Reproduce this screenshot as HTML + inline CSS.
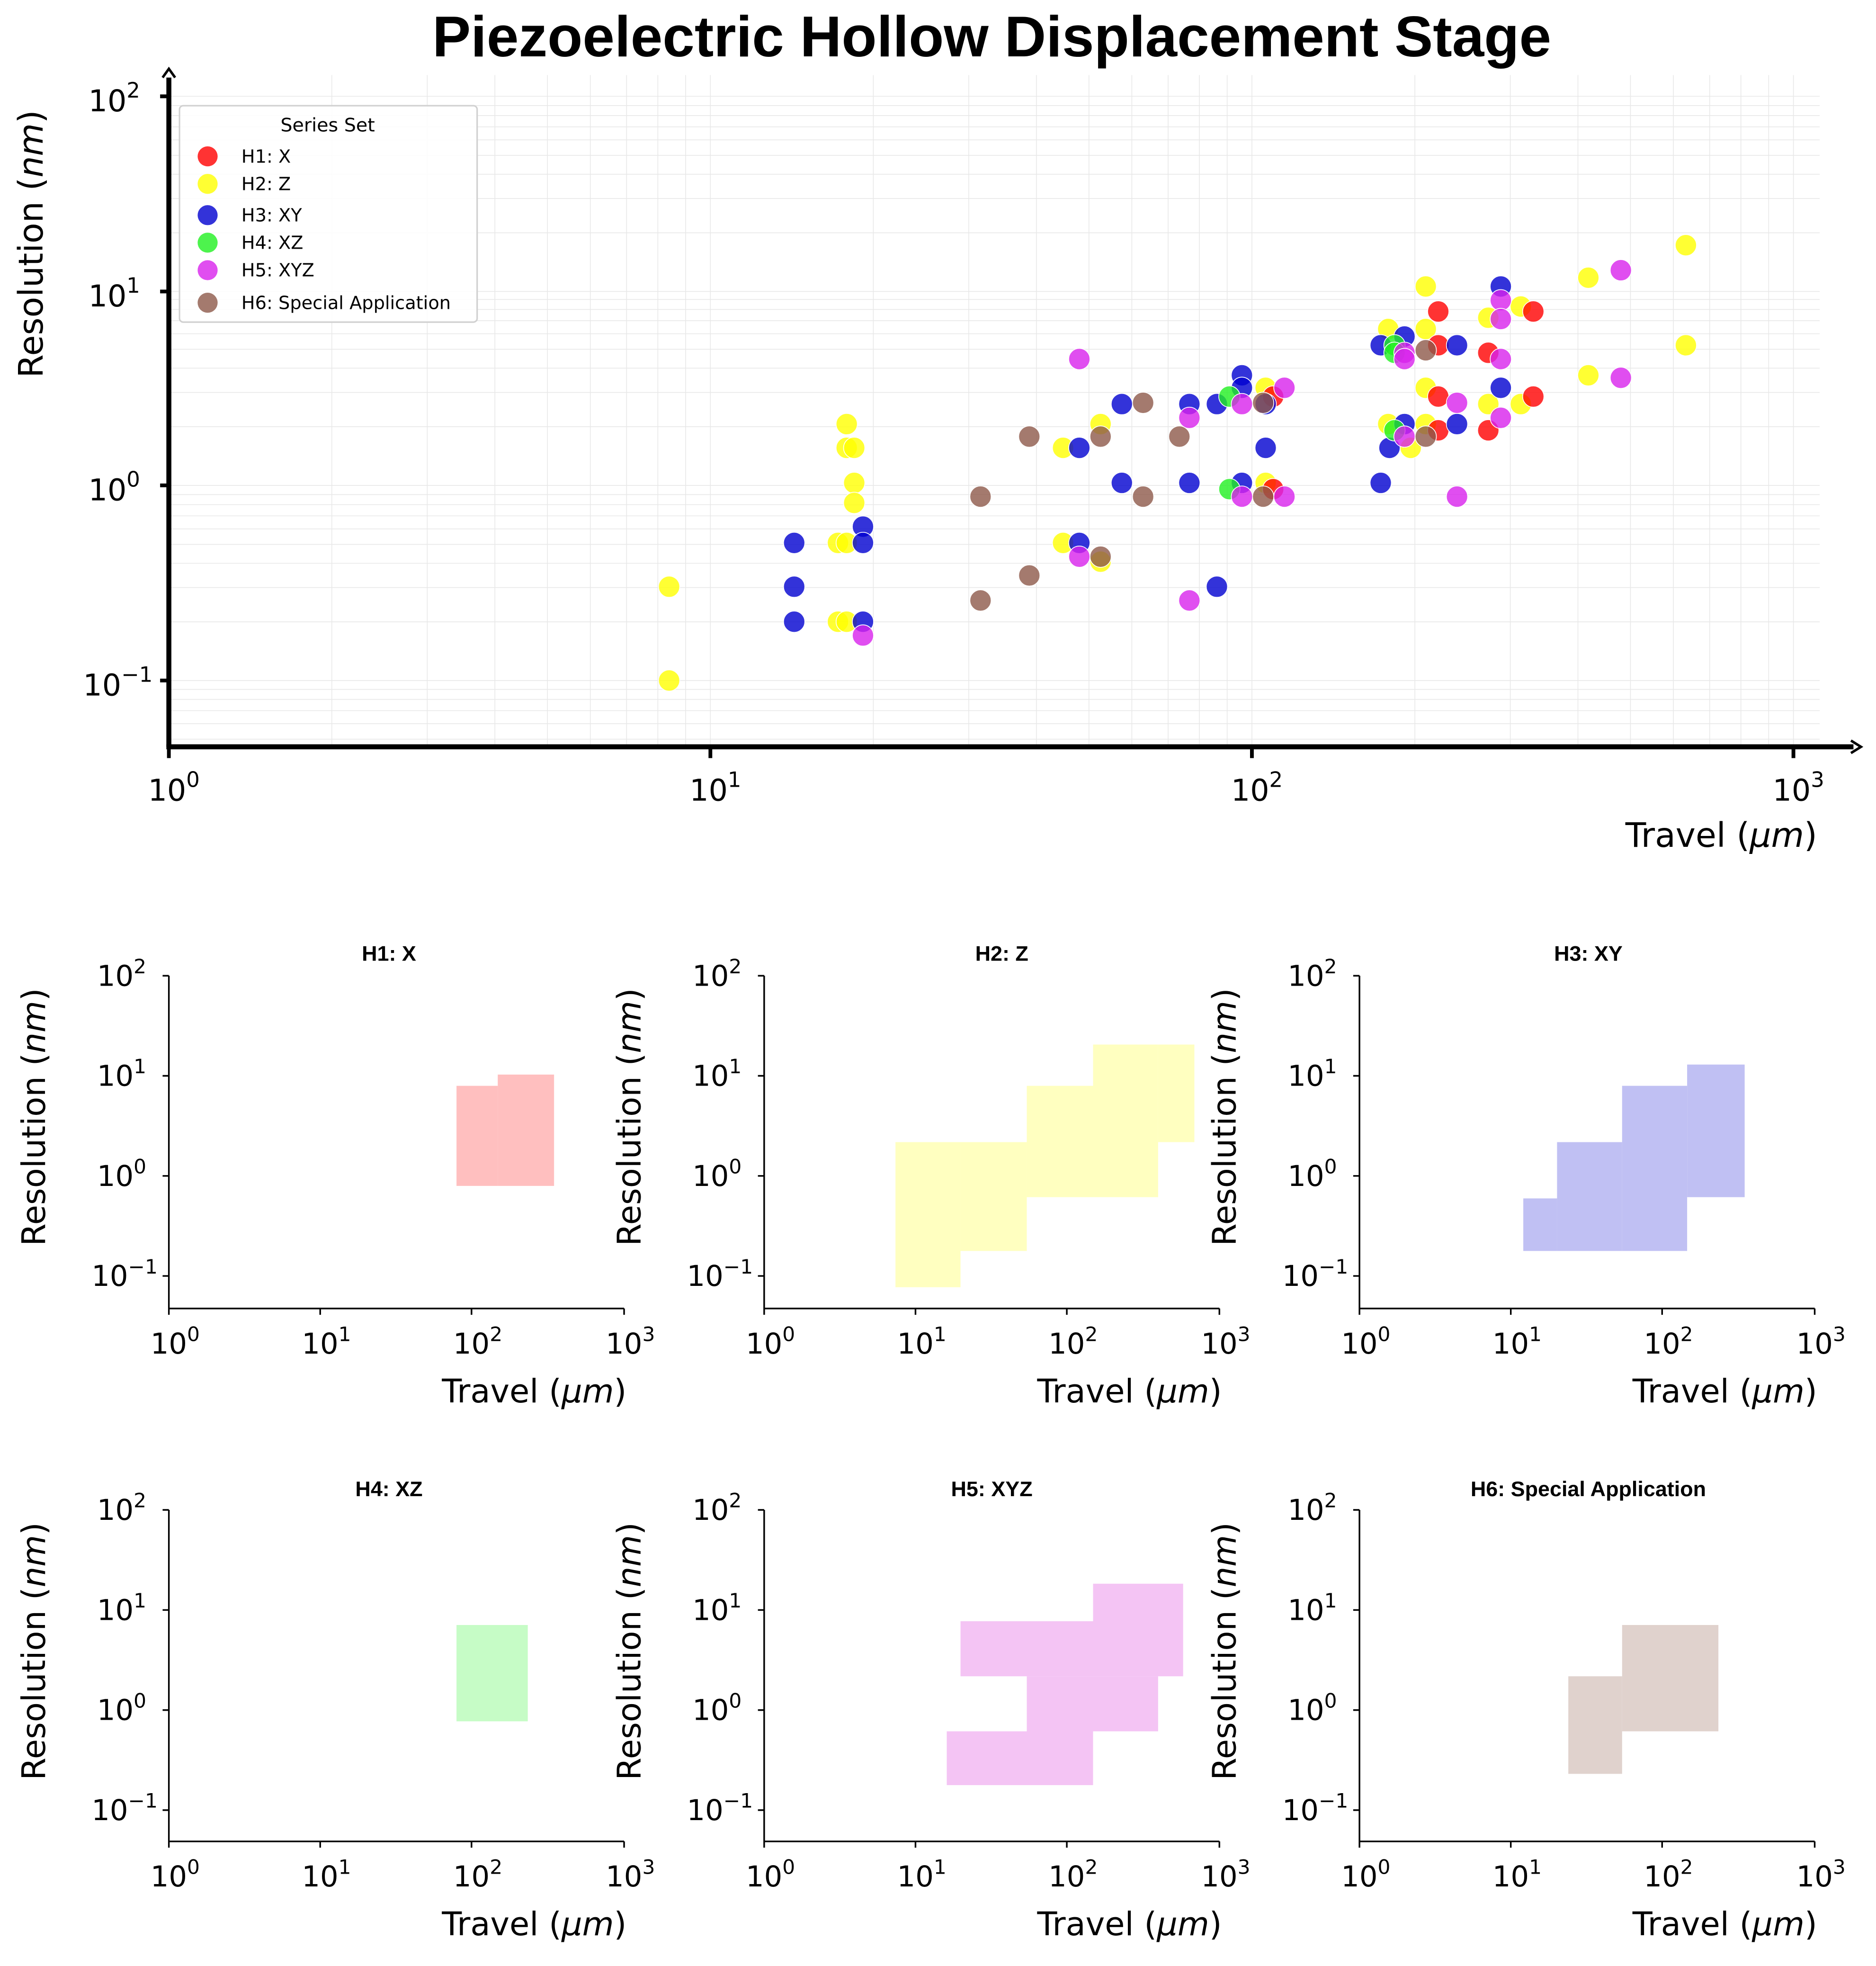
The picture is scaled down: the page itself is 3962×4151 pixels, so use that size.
<!DOCTYPE html>
<html><head><meta charset="utf-8"><style>html,body{margin:0;padding:0;background:#fff}svg{display:block}</style></head>
<body>
<svg xmlns="http://www.w3.org/2000/svg" width="3962" height="4151" viewBox="0 0 1500 1571.6" font-family="DejaVu Sans, Liberation Sans, sans-serif">
<rect width="1500" height="1571.6" fill="#fff"/>
<text x="793" y="45" font-size="46" font-weight="bold" text-anchor="middle" font-family="Liberation Sans, sans-serif">Piezoelectric Hollow Displacement Stage</text>
<g stroke="#e8e8e8" stroke-width="0.6" fill="none">
<path d="M265.3 60V597M341.6 60V597M395.7 60V597M437.7 60V597M472 60V597M501 60V597M526 60V597M548.2 60V597M698.3 60V597M774.6 60V597M828.7 60V597M870.7 60V597M905 60V597M934 60V597M959 60V597M981.2 60V597M1131.3 60V597M1207.6 60V597M1261.7 60V597M1303.7 60V597M1338 60V597M1367 60V597M1392 60V597M1414.2 60V597M568 60V597M1001 60V597M1434 60V597"/>
<path d="M135 497.1H1455M135 469.7H1455M135 450.3H1455M135 435.2H1455M135 422.8H1455M135 412.4H1455M135 403.4H1455M135 395.4H1455M135 341.1H1455M135 313.7H1455M135 294.3H1455M135 279.2H1455M135 266.8H1455M135 256.4H1455M135 247.4H1455M135 239.4H1455M135 186.1H1455M135 158.7H1455M135 139.3H1455M135 124.2H1455M135 111.8H1455M135 101.4H1455M135 92.4H1455M135 84.4H1455M135 551.1H1455M135 559.1H1455M135 568.1H1455M135 578.5H1455M135 590.9H1455M135 77H1455M135 233H1455M135 388H1455M135 544H1455"/>
</g>
<g stroke="#fff" stroke-width="0.6" fill-opacity="0.8">
<g fill="#ffff00">
<circle cx="535" cy="469" r="8.5"/><circle cx="535" cy="544" r="8.5"/><circle cx="677" cy="339" r="8.5"/><circle cx="677" cy="358" r="8.5"/><circle cx="683" cy="358" r="8.5"/><circle cx="683" cy="386" r="8.5"/><circle cx="683" cy="402" r="8.5"/><circle cx="670" cy="434" r="8.5"/><circle cx="677" cy="434" r="8.5"/><circle cx="670" cy="497" r="8.5"/><circle cx="677" cy="497" r="8.5"/><circle cx="850" cy="358" r="8.5"/><circle cx="880" cy="339" r="8.5"/><circle cx="850" cy="434" r="8.5"/><circle cx="880" cy="449" r="8.5"/><circle cx="1012" cy="310" r="8.5"/><circle cx="1012" cy="386" r="8.5"/><circle cx="1110" cy="263" r="8.5"/><circle cx="1140" cy="229" r="8.5"/><circle cx="1140" cy="263" r="8.5"/><circle cx="1110" cy="339" r="8.5"/><circle cx="1128" cy="358" r="8.5"/><circle cx="1140" cy="310" r="8.5"/><circle cx="1140" cy="339" r="8.5"/><circle cx="1190" cy="254" r="8.5"/><circle cx="1216" cy="245" r="8.5"/><circle cx="1190" cy="323" r="8.5"/><circle cx="1216" cy="323" r="8.5"/><circle cx="1270" cy="222" r="8.5"/><circle cx="1348" cy="196" r="8.5"/><circle cx="1270" cy="300" r="8.5"/><circle cx="1348" cy="276" r="8.5"/>
</g>
<g fill="#ff0000">
<circle cx="1150" cy="249" r="8.5"/><circle cx="1150" cy="276" r="8.5"/><circle cx="1150" cy="317" r="8.5"/><circle cx="1150" cy="344" r="8.5"/><circle cx="1190" cy="282" r="8.5"/><circle cx="1190" cy="344" r="8.5"/><circle cx="1226" cy="249" r="8.5"/><circle cx="1226" cy="317" r="8.5"/><circle cx="1018" cy="317" r="8.5"/><circle cx="1018" cy="391" r="8.5"/>
</g>
<g fill="#0000d0">
<circle cx="635" cy="434" r="8.5"/><circle cx="635" cy="469" r="8.5"/><circle cx="635" cy="497" r="8.5"/><circle cx="690" cy="421" r="8.5"/><circle cx="690" cy="434" r="8.5"/><circle cx="690" cy="497" r="8.5"/><circle cx="863" cy="358" r="8.5"/><circle cx="863" cy="434" r="8.5"/><circle cx="897" cy="323" r="8.5"/><circle cx="897" cy="386" r="8.5"/><circle cx="951" cy="323" r="8.5"/><circle cx="951" cy="386" r="8.5"/><circle cx="973" cy="323" r="8.5"/><circle cx="973" cy="469" r="8.5"/><circle cx="993" cy="300" r="8.5"/><circle cx="993" cy="310" r="8.5"/><circle cx="993" cy="386" r="8.5"/><circle cx="1012" cy="323" r="8.5"/><circle cx="1012" cy="358" r="8.5"/><circle cx="1104" cy="276" r="8.5"/><circle cx="1104" cy="386" r="8.5"/><circle cx="1123" cy="269" r="8.5"/><circle cx="1123" cy="339" r="8.5"/><circle cx="1111" cy="358" r="8.5"/><circle cx="1165" cy="276" r="8.5"/><circle cx="1165" cy="339" r="8.5"/><circle cx="1200" cy="229" r="8.5"/><circle cx="1200" cy="310" r="8.5"/>
</g>
<g fill="#20f020">
<circle cx="983" cy="317" r="8.5"/><circle cx="983" cy="391" r="8.5"/><circle cx="1115" cy="276" r="8.5"/><circle cx="1115" cy="282" r="8.5"/><circle cx="1115" cy="344" r="8.5"/>
</g>
<g fill="#d822ec">
<circle cx="863" cy="287" r="8.5"/><circle cx="863" cy="445" r="8.5"/><circle cx="690" cy="508" r="8.5"/><circle cx="951" cy="334" r="8.5"/><circle cx="951" cy="480" r="8.5"/><circle cx="993" cy="323" r="8.5"/><circle cx="993" cy="397" r="8.5"/><circle cx="1027" cy="310" r="8.5"/><circle cx="1027" cy="397" r="8.5"/><circle cx="1123" cy="282" r="8.5"/><circle cx="1123" cy="287" r="8.5"/><circle cx="1123" cy="349" r="8.5"/><circle cx="1165" cy="397" r="8.5"/><circle cx="1165" cy="322" r="8.5"/><circle cx="1200" cy="240" r="8.5"/><circle cx="1200" cy="255" r="8.5"/><circle cx="1200" cy="287" r="8.5"/><circle cx="1200" cy="334" r="8.5"/><circle cx="1296" cy="216" r="8.5"/><circle cx="1296" cy="302" r="8.5"/>
</g>
<g fill="#8d594a">
<circle cx="823" cy="349" r="8.5"/><circle cx="784" cy="397" r="8.5"/><circle cx="784" cy="480" r="8.5"/><circle cx="823" cy="460" r="8.5"/><circle cx="880" cy="349" r="8.5"/><circle cx="880" cy="445" r="8.5"/><circle cx="914" cy="322" r="8.5"/><circle cx="914" cy="397" r="8.5"/><circle cx="943" cy="349" r="8.5"/><circle cx="1010" cy="322" r="8.5"/><circle cx="1010" cy="397" r="8.5"/><circle cx="1140" cy="280" r="8.5"/><circle cx="1140" cy="349" r="8.5"/>
</g>
</g>
<g stroke="#000" fill="none">
<path d="M135 597V62" stroke-width="4"/>
<path d="M133 597H1482" stroke-width="4"/>
<path d="M130 62L135 55L140 62" stroke-width="2"/>
<path d="M1480 592L1488 597L1480 602" stroke-width="2"/>
<path d="M128 77H135M128 233H135M128 388H135M128 544H135" stroke-width="3"/>
<path d="M135 597V606M568 597V606M1001 597V606M1434 597V606" stroke-width="3"/>
</g>
<g font-size="24" text-anchor="end">
<text x="112" y="89">10<tspan dy="-11" font-size="17">2</tspan></text>
<text x="112" y="245">10<tspan dy="-11" font-size="17">1</tspan></text>
<text x="112" y="400">10<tspan dy="-11" font-size="17">0</tspan></text>
<text x="122" y="556">10<tspan dy="-11" font-size="17">−1</tspan></text>
</g>
<g font-size="24" text-anchor="middle">
<text x="139" y="640">10<tspan dy="-11" font-size="17">0</tspan></text>
<text x="572" y="640">10<tspan dy="-11" font-size="17">1</tspan></text>
<text x="1005" y="640">10<tspan dy="-11" font-size="17">2</tspan></text>
<text x="1438" y="640">10<tspan dy="-11" font-size="17">3</tspan></text>
</g>
<text x="1453" y="677" font-size="27" text-anchor="end">Travel (<tspan font-style="italic">μm</tspan>)</text>
<text transform="translate(34,195) rotate(-90)" font-size="27" text-anchor="middle">Resolution (<tspan font-style="italic">nm</tspan>)</text>
<rect x="143.5" y="84.5" width="238" height="173" rx="3" fill="#fff" fill-opacity="0.85" stroke="#d0d0d0" stroke-width="1.2"/>
<text x="262" y="105" font-size="15" text-anchor="middle">Series Set</text>
<g fill-opacity="0.8">
<circle cx="166" cy="125" r="8" fill="#ff0000"/><circle cx="166" cy="147" r="8" fill="#ffff00"/><circle cx="166" cy="172" r="8" fill="#0000d0"/><circle cx="166" cy="194" r="8" fill="#20f020"/><circle cx="166" cy="216" r="8" fill="#d822ec"/><circle cx="166" cy="242" r="8" fill="#8d594a"/>
</g>
<g font-size="14.5">
<text x="193" y="130">H1: X</text><text x="193" y="152">H2: Z</text><text x="193" y="177">H3: XY</text><text x="193" y="199">H4: XZ</text><text x="193" y="221">H5: XYZ</text><text x="193" y="247">H6: Special Application</text>
</g>
<g fill="#ffbfbf"><rect x="365" y="868" width="33" height="80"/><rect x="398" y="859" width="45" height="89"/></g>
<g fill="#ffffc0"><rect x="716" y="913" width="52" height="116"/><rect x="768" y="913" width="53" height="87"/><rect x="821" y="868" width="53" height="89"/><rect x="874" y="835" width="52" height="122"/><rect x="926" y="835" width="29" height="78"/></g>
<g fill="#c0c0f3"><rect x="1218" y="958" width="27" height="42"/><rect x="1245" y="913" width="52" height="87"/><rect x="1297" y="868" width="52" height="132"/><rect x="1349" y="851" width="46" height="106"/></g>
<g fill="#c6fcc6"><rect x="365" y="1299" width="57" height="77"/></g>
<g fill="#f4c4f4"><rect x="768" y="1296" width="106" height="44"/><rect x="821" y="1340" width="105" height="44"/><rect x="757" y="1384" width="117" height="43"/><rect x="874" y="1266" width="72" height="74"/></g>
<g fill="#e0d2cd"><rect x="1254" y="1340" width="43" height="78"/><rect x="1297" y="1299" width="77" height="85"/></g>
<g stroke="#000" stroke-width="1.3" fill="none">
<path d="M135 780V1046H499M130 780H135M130 860H135M130 940H135M130 1020H135M135 1046V1051M256 1046V1051M377 1046V1051M499 1046V1051"/>
<path d="M611 780V1046H975M606 780H611M606 860H611M606 940H611M606 1020H611M611 1046V1051M732 1046V1051M853 1046V1051M975 1046V1051"/>
<path d="M1087 780V1046H1451M1082 780H1087M1082 860H1087M1082 940H1087M1082 1020H1087M1087 1046V1051M1208 1046V1051M1329 1046V1051M1451 1046V1051"/>
<path d="M135 1207V1472H499M130 1207H135M130 1287H135M130 1367H135M130 1447H135M135 1472V1477M256 1472V1477M377 1472V1477M499 1472V1477"/>
<path d="M611 1207V1472H975M606 1207H611M606 1287H611M606 1367H611M606 1447H611M611 1472V1477M732 1472V1477M853 1472V1477M975 1472V1477"/>
<path d="M1087 1207V1472H1451M1082 1207H1087M1082 1287H1087M1082 1367H1087M1082 1447H1087M1087 1472V1477M1208 1472V1477M1329 1472V1477M1451 1472V1477"/>
</g>
<g font-size="17" font-weight="bold" text-anchor="middle" font-family="Liberation Sans, sans-serif">
<text x="311" y="768">H1: X</text><text x="801" y="768">H2: Z</text><text x="1270" y="768">H3: XY</text>
<text x="311" y="1196">H4: XZ</text><text x="793" y="1196">H5: XYZ</text><text x="1270" y="1196">H6: Special Application</text>
</g>
<g font-size="23" text-anchor="end">
<text x="117" y="788">10<tspan dy="-10" font-size="16">2</tspan></text><text x="117" y="868">10<tspan dy="-10" font-size="16">1</tspan></text><text x="117" y="948">10<tspan dy="-10" font-size="16">0</tspan></text><text x="126" y="1028">10<tspan dy="-10" font-size="16">−1</tspan></text>
<text x="593" y="788">10<tspan dy="-10" font-size="16">2</tspan></text><text x="593" y="868">10<tspan dy="-10" font-size="16">1</tspan></text><text x="593" y="948">10<tspan dy="-10" font-size="16">0</tspan></text><text x="602" y="1028">10<tspan dy="-10" font-size="16">−1</tspan></text>
<text x="1069" y="788">10<tspan dy="-10" font-size="16">2</tspan></text><text x="1069" y="868">10<tspan dy="-10" font-size="16">1</tspan></text><text x="1069" y="948">10<tspan dy="-10" font-size="16">0</tspan></text><text x="1078" y="1028">10<tspan dy="-10" font-size="16">−1</tspan></text>
<text x="117" y="1215">10<tspan dy="-10" font-size="16">2</tspan></text><text x="117" y="1295">10<tspan dy="-10" font-size="16">1</tspan></text><text x="117" y="1375">10<tspan dy="-10" font-size="16">0</tspan></text><text x="126" y="1455">10<tspan dy="-10" font-size="16">−1</tspan></text>
<text x="593" y="1215">10<tspan dy="-10" font-size="16">2</tspan></text><text x="593" y="1295">10<tspan dy="-10" font-size="16">1</tspan></text><text x="593" y="1375">10<tspan dy="-10" font-size="16">0</tspan></text><text x="602" y="1455">10<tspan dy="-10" font-size="16">−1</tspan></text>
<text x="1069" y="1215">10<tspan dy="-10" font-size="16">2</tspan></text><text x="1069" y="1295">10<tspan dy="-10" font-size="16">1</tspan></text><text x="1069" y="1375">10<tspan dy="-10" font-size="16">0</tspan></text><text x="1078" y="1455">10<tspan dy="-10" font-size="16">−1</tspan></text>
</g>
<g font-size="23" text-anchor="middle">
<text x="140" y="1082">10<tspan dy="-10" font-size="16">0</tspan></text><text x="261" y="1082">10<tspan dy="-10" font-size="16">1</tspan></text><text x="382" y="1082">10<tspan dy="-10" font-size="16">2</tspan></text><text x="504" y="1082">10<tspan dy="-10" font-size="16">3</tspan></text>
<text x="616" y="1082">10<tspan dy="-10" font-size="16">0</tspan></text><text x="737" y="1082">10<tspan dy="-10" font-size="16">1</tspan></text><text x="858" y="1082">10<tspan dy="-10" font-size="16">2</tspan></text><text x="980" y="1082">10<tspan dy="-10" font-size="16">3</tspan></text>
<text x="1092" y="1082">10<tspan dy="-10" font-size="16">0</tspan></text><text x="1213" y="1082">10<tspan dy="-10" font-size="16">1</tspan></text><text x="1334" y="1082">10<tspan dy="-10" font-size="16">2</tspan></text><text x="1456" y="1082">10<tspan dy="-10" font-size="16">3</tspan></text>
<text x="140" y="1508">10<tspan dy="-10" font-size="16">0</tspan></text><text x="261" y="1508">10<tspan dy="-10" font-size="16">1</tspan></text><text x="382" y="1508">10<tspan dy="-10" font-size="16">2</tspan></text><text x="504" y="1508">10<tspan dy="-10" font-size="16">3</tspan></text>
<text x="616" y="1508">10<tspan dy="-10" font-size="16">0</tspan></text><text x="737" y="1508">10<tspan dy="-10" font-size="16">1</tspan></text><text x="858" y="1508">10<tspan dy="-10" font-size="16">2</tspan></text><text x="980" y="1508">10<tspan dy="-10" font-size="16">3</tspan></text>
<text x="1092" y="1508">10<tspan dy="-10" font-size="16">0</tspan></text><text x="1213" y="1508">10<tspan dy="-10" font-size="16">1</tspan></text><text x="1334" y="1508">10<tspan dy="-10" font-size="16">2</tspan></text><text x="1456" y="1508">10<tspan dy="-10" font-size="16">3</tspan></text>
</g>
<g font-size="26" text-anchor="end">
<text x="501" y="1121">Travel (<tspan font-style="italic">μm</tspan>)</text><text x="977" y="1121">Travel (<tspan font-style="italic">μm</tspan>)</text><text x="1453" y="1121">Travel (<tspan font-style="italic">μm</tspan>)</text>
<text x="501" y="1547">Travel (<tspan font-style="italic">μm</tspan>)</text><text x="977" y="1547">Travel (<tspan font-style="italic">μm</tspan>)</text><text x="1453" y="1547">Travel (<tspan font-style="italic">μm</tspan>)</text>
</g>
<g font-size="26" text-anchor="middle">
<text transform="translate(36,893) rotate(-90)">Resolution (<tspan font-style="italic">nm</tspan>)</text>
<text transform="translate(512,893) rotate(-90)">Resolution (<tspan font-style="italic">nm</tspan>)</text>
<text transform="translate(988,893) rotate(-90)">Resolution (<tspan font-style="italic">nm</tspan>)</text>
<text transform="translate(36,1320) rotate(-90)">Resolution (<tspan font-style="italic">nm</tspan>)</text>
<text transform="translate(512,1320) rotate(-90)">Resolution (<tspan font-style="italic">nm</tspan>)</text>
<text transform="translate(988,1320) rotate(-90)">Resolution (<tspan font-style="italic">nm</tspan>)</text>
</g>
</svg>
</body></html>
